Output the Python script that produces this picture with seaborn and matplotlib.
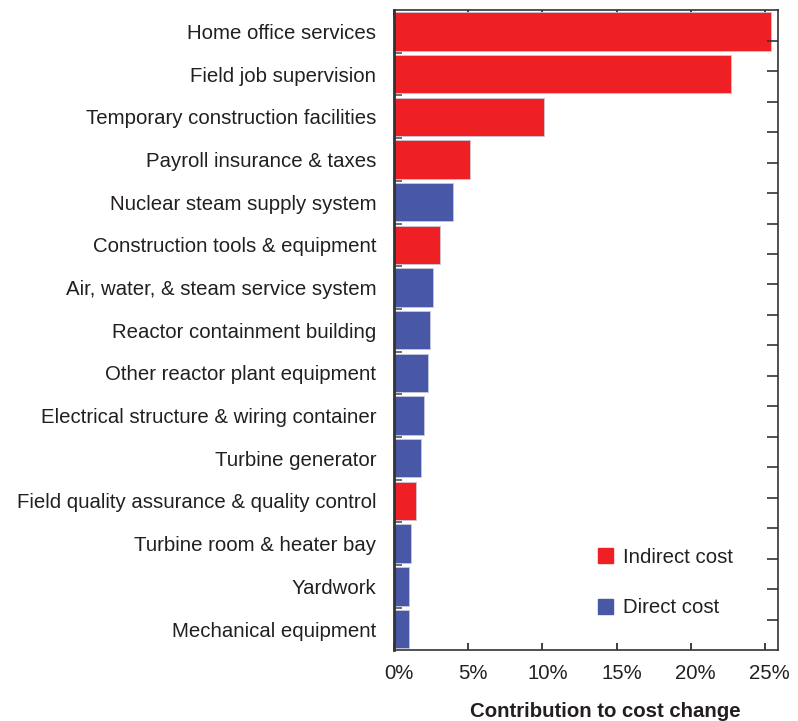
import seaborn as sns
import pandas as pd
import matplotlib.pyplot as plt
import matplotlib.transforms as mtrans
from matplotlib.ticker import FixedLocator, PercentFormatter
from matplotlib.patches import Patch

# categories top to bottom
items = ['Home office services', 'Field job supervision', 'Temporary construction facilities',
         'Payroll insurance & taxes', 'Nuclear steam supply system', 'Construction tools & equipment',
         'Air, water, & steam service system', 'Reactor containment building',
         'Other reactor plant equipment', 'Electrical structure & wiring container',
         'Turbine generator', 'Field quality assurance & quality control',
         'Turbine room & heater bay', 'Yardwork', 'Mechanical equipment']
contribution = [25.4, 22.7, 10.1, 5.1, 4.0, 3.1, 2.6, 2.4, 2.3, 2.0, 1.8, 1.5, 1.1, 1.0, 1.0]
cost_type = ['Indirect cost', 'Indirect cost', 'Indirect cost', 'Indirect cost', 'Direct cost',
             'Indirect cost', 'Direct cost', 'Direct cost', 'Direct cost', 'Direct cost',
             'Direct cost', 'Indirect cost', 'Direct cost', 'Direct cost', 'Direct cost']

df = pd.DataFrame({'item': items, 'contribution': contribution, 'type': cost_type})

red = '#EE2024'
blue = '#4858A7'
txt = '#231F20'
fs = 14.7

sns.set_style('white')
plt.rcParams['font.family'] = ['Liberation Sans', 'DejaVu Sans']
plt.rcParams['text.color'] = txt

fig = plt.figure(figsize=(7.98, 7.21), dpi=100)
ax = fig.add_axes([0.494, 0.098, 0.481, 0.888])

sns.barplot(data=df, x='contribution', y='item', hue='type', order=items,
            palette={'Indirect cost': red, 'Direct cost': blue}, dodge=False, saturation=1,
            width=0.9, ax=ax, legend=False, edgecolor='#c8c8d8', linewidth=0.6)

ax.set_xlim(0, 25.9)
ax.set_ylim(len(items) - 0.5, -0.5)

# x ticks on top and bottom, inward
ax.set_xticks([0, 5, 10, 15, 20, 25])
ax.xaxis.set_major_formatter(PercentFormatter(decimals=0))
ax.tick_params(axis='x', direction='in', top=True, bottom=True, length=5, width=1.2,
               color=txt, labelsize=fs, labelcolor=txt, pad=10)
shift = mtrans.ScaledTranslation(5 / 100, 0, fig.dpi_scale_trans)
for lab in ax.get_xticklabels():
    lab.set_transform(lab.get_transform() + shift)

# y labels at bar centers, small inward ticks at bar boundaries
ax.tick_params(axis='y', which='major', length=0, labelsize=fs, labelcolor=txt, pad=13)
ax.yaxis.set_minor_locator(FixedLocator([i + 0.5 for i in range(len(items) - 1)]))
ax.tick_params(axis='y', which='minor', direction='in', left=True, length=6, width=1.2, color='#555555')
ax.set_ylabel('')
ax.set_xlabel('Contribution to cost change', fontsize=fs, fontweight='bold', color=txt)
ax.xaxis.set_label_coords(0.549, -0.08)

for s in ax.spines.values():
    s.set_color('#333333')
    s.set_linewidth(1.2)
ax.spines['left'].set_linewidth(2)

# independent tick marks along right side
ax2 = ax.twinx()
ax2.set_ylim(0, 21)
ax2.set_yticks(range(1, 21))
ax2.tick_params(axis='y', direction='in', length=8, width=1.2, color='#333333', labelright=False)
for s in ax2.spines.values():
    s.set_visible(False)

handles = [Patch(color=red, label='Indirect cost'), Patch(color=blue, label='Direct cost')]
ax.legend(handles=handles, loc='lower left', bbox_to_anchor=(0.482, 0.023), frameon=False,
          handlelength=0.75, handleheight=0.75, labelspacing=1.55, fontsize=fs, handletextpad=0.5)

fig.savefig('out.png', dpi=100)
